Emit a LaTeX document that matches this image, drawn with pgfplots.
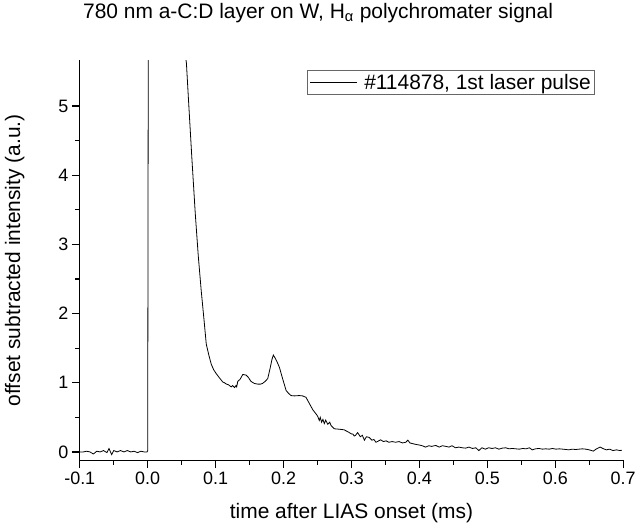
\documentclass[border=0pt]{standalone}
\usepackage{fontspec}
\setmainfont{Liberation Sans}
\usepackage{pgfplots}
\pgfplotsset{compat=1.18}

\begin{document}
\begin{tikzpicture}
\begin{axis}[
  scale only axis,
  width=545pt, height=401pt,
  xmin=-0.1, xmax=0.7,
  ymin=-0.12, ymax=5.66,
  axis x line*=bottom,
  axis y line*=left,
  axis line style={line width=1.2pt},
  tick align=outside,
  major tick length=8pt,
  minor tick length=4.5pt,
  every tick/.style={black,line width=1.2pt},
  xtick={-0.1,0,0.1,0.2,0.3,0.4,0.5,0.6,0.7},
  ytick={0,1,2,3,4,5},
  minor x tick num=1,
  minor y tick num=1,
  /pgf/number format/assume math mode=true,
  xticklabel style={/pgf/number format/fixed,/pgf/number format/fixed zerofill,/pgf/number format/precision=1},
  ticklabel style={font=\fontsize{18}{20}\selectfont},
  label style={font=\fontsize{21}{25}\selectfont},
  xlabel={time after LIAS onset (ms)},
  ylabel={offset subtracted intensity (a.u.)},
  xlabel style={at={(axis description cs:0.5,-0.1446)},anchor=base},
  ylabel style={at={(axis description cs:-0.0954,0.5)},anchor=south},
  title={780 nm a-C:D layer on W, H\textsubscript{α} polychromater signal},
  title style={font=\fontsize{21}{25}\selectfont,at={(axis description cs:0.4385,1.0898)},anchor=base},
  legend style={at={(axis description cs:0.9486,0.975)},anchor=north east,
    draw=black!60,line width=0.8pt,font=\fontsize{21}{25}\selectfont,
    inner xsep=2pt,inner ysep=1.5pt,
    /tikz/every odd column/.append style={column sep=5pt}},
  legend cell align=left,
  legend image code/.code={\draw[#1,line width=0.8pt] (0pt,0pt) -- (47pt,0pt);},
]
\addplot[black,line width=0.8pt] coordinates {
(-0.100,0.00) (-0.095,0.00) (-0.090,0.01) (-0.085,0.00) (-0.080,-0.03) (-0.075,0.01)
(-0.070,0.00) (-0.065,0.02) (-0.060,-0.01) (-0.057,0.05) (-0.053,-0.04) (-0.050,0.02)
(-0.045,0.00) (-0.040,0.02) (-0.035,0.00) (-0.030,0.02) (-0.025,0.00) (-0.020,0.01)
(-0.015,-0.01) (-0.010,0.01) (-0.005,0.00) (-0.001,0.00) (0.000,0.02)
(0.001,7.0) (0.003,12.0) (0.030,10.0) (0.052,6.0)
(0.057,5.62) (0.060,5.10) (0.065,4.25) (0.070,3.45) (0.0744,2.84) (0.0788,2.33)
(0.083,1.90) (0.0862,1.56) (0.090,1.40) (0.0935,1.27) (0.097,1.19) (0.101,1.13)
(0.1057,1.07) (0.1106,1.01) (0.113,1.00) (0.116,0.98) (0.119,0.97) (0.123,0.94)
(0.125,0.96) (0.1278,0.93) (0.130,0.96) (0.131,0.94) (0.1326,1.02) (0.136,1.05)
(0.140,1.12) (0.145,1.11) (0.148,1.08) (0.152,1.02) (0.157,0.99) (0.162,0.98)
(0.166,0.98) (0.169,0.99) (0.173,1.02) (0.1767,1.06) (0.180,1.20) (0.183,1.34)
(0.185,1.40) (0.188,1.35) (0.191,1.29) (0.194,1.22) (0.198,1.08) (0.2037,0.89)
(0.207,0.85) (0.211,0.815) (0.216,0.81) (0.223,0.815) (0.228,0.81) (0.233,0.79)
(0.238,0.70) (0.243,0.61) (0.247,0.56) (0.250,0.52) (0.2526,0.455) (0.254,0.50)
(0.256,0.43) (0.258,0.47) (0.260,0.41) (0.262,0.46) (0.265,0.40) (0.268,0.43)
(0.270,0.38) (0.2746,0.335) (0.280,0.33) (0.285,0.325) (0.289,0.32) (0.295,0.29)
(0.300,0.26) (0.302,0.26) (0.304,0.23) (0.306,0.24) (0.309,0.28) (0.313,0.22)
(0.316,0.24) (0.319,0.17) (0.322,0.22) (0.326,0.21) (0.330,0.17) (0.333,0.18)
(0.336,0.14) (0.340,0.16) (0.343,0.175) (0.347,0.15) (0.351,0.16) (0.355,0.14)
(0.360,0.15) (0.365,0.14) (0.370,0.15) (0.375,0.13) (0.380,0.14) (0.383,0.17)
(0.386,0.13) (0.390,0.12) (0.395,0.108) (0.400,0.10) (0.404,0.09) (0.409,0.07)
(0.414,0.09) (0.418,0.08) (0.424,0.094) (0.429,0.07) (0.434,0.09) (0.439,0.08)
(0.4435,0.07) (0.448,0.09) (0.453,0.06) (0.458,0.07) (0.463,0.06) (0.468,0.055)
(0.473,0.07) (0.478,0.05) (0.483,0.06) (0.4875,0.02) (0.492,0.06) (0.497,0.04)
(0.502,0.06) (0.507,0.05) (0.512,0.06) (0.517,0.04) (0.522,0.055) (0.527,0.06)
(0.532,0.045) (0.537,0.05) (0.542,0.045) (0.547,0.04) (0.552,0.05) (0.557,0.045)
(0.562,0.06) (0.566,0.03) (0.571,0.045) (0.576,0.05) (0.581,0.04) (0.586,0.045)
(0.591,0.04) (0.596,0.05) (0.601,0.04) (0.606,0.045) (0.611,0.04) (0.616,0.035)
(0.620,0.03) (0.625,0.04) (0.630,0.035) (0.635,0.04) (0.640,0.045) (0.645,0.04)
(0.650,0.03) (0.656,0.012) (0.660,0.04) (0.666,0.07) (0.670,0.05) (0.675,0.03)
(0.680,0.04) (0.685,0.02) (0.690,0.03) (0.695,0.02) (0.698,0.025)
};
\addlegendentry{\#114878, 1st laser pulse}
\end{axis}
\path (current axis.south west) ++(-80pt,-66pt) rectangle ++(639pt,526pt);
\end{tikzpicture}
\end{document}
